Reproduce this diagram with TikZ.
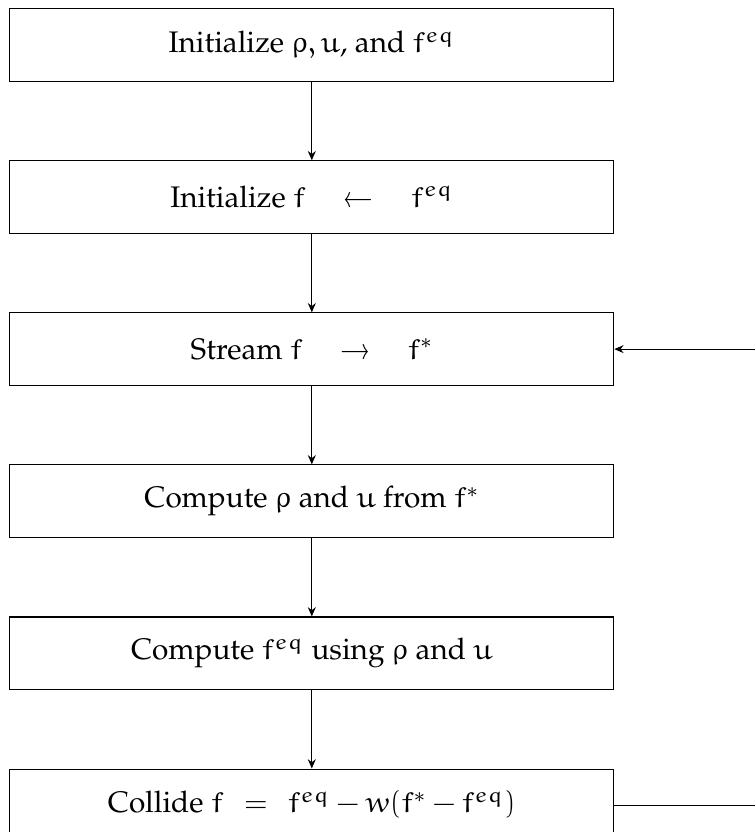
\documentclass[tikz,border=0pt]{standalone}
\usepackage[T1]{fontenc}
\usepackage{palatino}
\usepackage{euler}
\usetikzlibrary{arrows.meta,positioning}
\tikzset{
  stepbox/.style={
    rectangle, draw, thin,
    minimum width=8cm, minimum height=0.96cm,
    font=\fontsize{11.2}{13.5}\selectfont,
    align=center, inner sep=4pt
  },
  flowarrow/.style={
    -{Stealth[length=3.5pt, width=3pt]}, thin
  },
}
\begin{document}
\begin{tikzpicture}[node distance=1.04cm]

\clip (0,0) rectangle (10,-11.02);

% Setup
\node[stepbox] (init) at (4.13,-0.596) {Initialize $\rho, u$, and $f^{eq}$};
\node[stepbox, below=of init] (initf) {Initialize $f \quad\leftarrow\quad f^{eq}$};

% Main loop
\node[stepbox, below=of initf] (stream) {Stream $f \quad\rightarrow\quad f^{*}$};
\node[stepbox, below=of stream] (moments) {Compute $\rho$ and $u$ from $f^{*}$};
\node[stepbox, below=of moments] (equil) {Compute $f^{eq}$ using $\rho$ and $u$};
\node[stepbox, below=of equil] (collide) {Collide $f \;\,=\;\, f^{eq} - w(f^{*} - f^{eq})$};

\draw[flowarrow] (init) -- (initf);
\draw[flowarrow] (initf) -- (stream);
\draw[flowarrow] (stream) -- (moments);
\draw[flowarrow] (moments) -- (equil);
\draw[flowarrow] (equil) -- (collide);

% Back to streaming
\coordinate[right=2.5cm of collide] (loopcorner);
\draw[flowarrow] (collide.east) -- (loopcorner) |- (stream.east);

\end{tikzpicture}
\end{document}
